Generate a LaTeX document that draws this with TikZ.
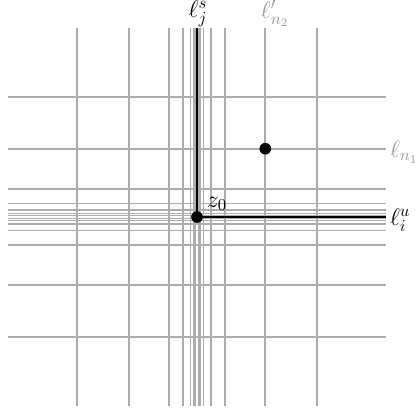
\documentclass[tikz,border=0pt]{standalone}
\begin{document}
\begin{tikzpicture}[x=0.6pt,y=-0.6pt,
  font=\fontsize{14}{17}\selectfont,
  gridline/.style={draw=gray!65,line width=1pt},
  mainline/.style={draw=black,line width=0.95pt},
  dot/.style={circle,fill=black,inner sep=0pt,minimum size=7pt},
  glabel/.style={text=gray!80,inner sep=1.5pt},
  blabel/.style={text=black,inner sep=1.5pt}]
\useasboundingbox (0,0) rectangle (419,413);
% vertical lines
\foreach \x in {77,128.7,168.7,183.3,190.5,193.7,195.6,198.4,200.3,203.5,210.7,225.3,265.3,317}
  \draw[gridline] (\x,28) -- (\x,406);
% horizontal lines
\foreach \y in {96.7,148.7,189,203.5,210.2,213.5,215.4,218.6,220.5,223.8,230.5,244.7,285.3,337.3}
  \draw[gridline] (8,\y) -- (386,\y);
% main nodes
\node[dot] (z0) at (197,217) {};
\node[dot] (p) at (265.3,148.7) {};
\coordinate (top) at (197,28);
\coordinate (right) at (386,217);
\draw[mainline] (top) -- (z0.center) -- (right);
% labels
\node[blabel,anchor=south,inner sep=0pt] (ljs) at (198,27) {$\ell_j^s$};
\node[glabel,anchor=south,inner sep=0pt] (ln2) at (275,27) {$\ell'_{n_2}$};
\node[glabel,anchor=west,inner sep=1pt] (ln1) at (388,152) {$\ell_{n_1}$};
\node[blabel,anchor=west,inner sep=1pt] (liu) at (388,220) {$\ell_i^u$};
\node[blabel] (z0lab) at (217,204) {$z_0$};
\end{tikzpicture}
\end{document}
